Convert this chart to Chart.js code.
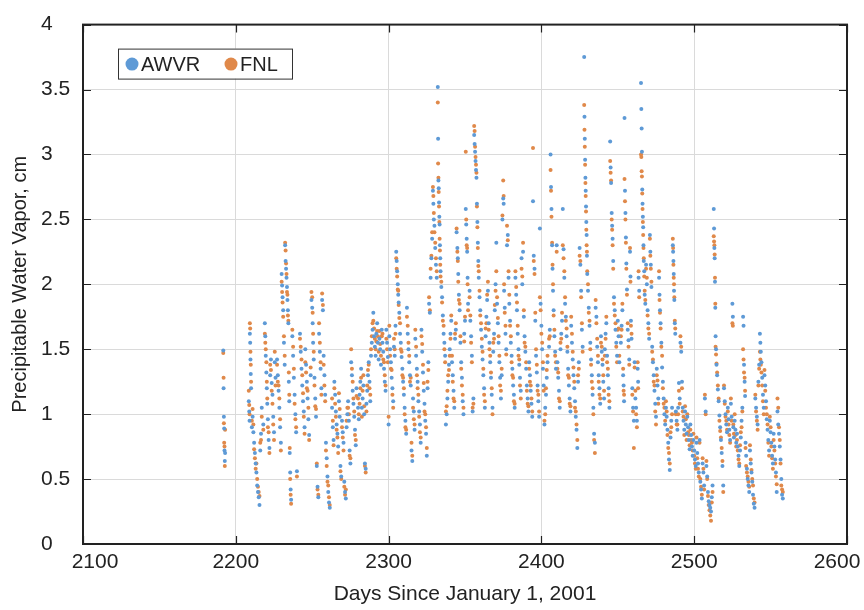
<!DOCTYPE html>
<html lang="en">
<head>
<meta charset="UTF-8">
<title>Precipitable water vapor, AWVR vs FNL</title>
<style>
    body { margin: 0; background: #fff; }
    #wrap { width: 864px; height: 610px; }
</style>
<script src="https://cdn.jsdelivr.net/npm/chart.js"></script>
</head>
<body>
<div id="wrap"><canvas id="pwvChart" width="864" height="610"></canvas></div>
<script>
// sample times, days since 2001-01-01
const day = [
    2191.8, 2192.0, 2192.2, 2192.4, 2192.6, 2192.8, 2193.0,
    2208.5, 2208.8, 2209.0, 2209.2, 2209.4, 2209.6, 2209.8, 2210.0, 2210.5, 2211.0,
    2211.5, 2212.0, 2212.5, 2213.0, 2213.5, 2214.0, 2214.5, 2215.0, 2215.5, 2216.0,
    2216.5, 2217.0, 2218.0, 2219.0, 2219.3, 2219.6, 2220.0, 2220.3, 2220.6, 2221.0,
    2221.5, 2222.0, 2222.5, 2223.0, 2223.5, 2224.0, 2224.5, 2225.0, 2225.5, 2226.0,
    2227, 2227.5, 2228, 2228.5, 2229, 2229.5, 2230, 2230.3, 2230.6, 2231,
    2231.5, 2232, 2232.3, 2232.6, 2232.9, 2233.2, 2233.5, 2233.8, 2234.1, 2234.4,
    2234.7, 2235, 2235.3, 2235.6, 2235.9, 2236.2, 2237, 2237.5, 2238, 2238.5,
    2239, 2239.5, 2240,
    2242, 2242.5, 2243, 2243.5, 2244, 2244.5, 2245, 2245.5, 2246, 2246.5,
    2247, 2247.5, 2248, 2249, 2249.5, 2250, 2250.3, 2250.6, 2251, 2251.5,
    2252, 2252.5, 2253, 2253.5, 2254, 2254.5, 2255, 2255.5, 2256, 2256.5,
    2257, 2257.5, 2258, 2258.5, 2259, 2259.5, 2260, 2260.5, 2261, 2261.5,
    2263, 2263.5, 2264, 2264.5, 2265, 2265.5, 2266, 2266.5, 2267, 2267.5,
    2268, 2268.5, 2269, 2269.5, 2270, 2270.5, 2271, 2271.5, 2272, 2272.5,
    2273, 2273.5, 2274, 2274.5, 2275, 2275.5, 2276, 2276.5, 2277, 2277.5,
    2278, 2278.5, 2279, 2280, 2280.5, 2281, 2281.5, 2282, 2282.5, 2283,
    2283.5, 2284, 2284.5, 2285, 2285.5, 2286, 2286.5, 2287, 2287.5, 2288,
    2288.5, 2289, 2289.5, 2290, 2290.5, 2291, 2291.5, 2292, 2292.5, 2293,
    2293.5, 2294, 2294.5, 2295, 2295.5, 2296, 2296.5, 2297, 2297.5, 2298,
    2298.5, 2299, 2299.5, 2300, 2300.5, 2301, 2301.5,
    2302, 2302.5, 2303, 2303.5, 2304, 2304.5, 2305, 2305.3, 2305.6, 2306,
    2306.3, 2306.6, 2307, 2307.5, 2308, 2308.5, 2309, 2309.5, 2310, 2310.5,
    2311, 2311.5, 2312, 2312.5, 2313, 2313.5, 2314, 2314.5, 2315, 2315.5,
    2316, 2316.5, 2317, 2317.5, 2318, 2318.5, 2319, 2319.5, 2320, 2320.5,
    2321, 2321.5, 2322, 2322.5, 2323, 2323.5, 2324, 2324.5, 2325, 2325.5,
    2326, 2326.5, 2327, 2327.5, 2328, 2328.5, 2329, 2329.3, 2329.6, 2330,
    2330.5, 2331, 2331.5,
    2332.2, 2332.4, 2332.6, 2332.8, 2333.0, 2333.2, 2333.4, 2333.6, 2333.8, 2334.0,
    2334.5, 2335, 2335.5, 2336, 2336.5, 2337, 2337.5, 2338, 2338.5, 2339,
    2339.5, 2340, 2340.5, 2341, 2341.5, 2342, 2342.5, 2343, 2343.5, 2344,
    2344.5, 2345, 2345.3, 2345.6, 2346, 2346.5, 2347, 2347.5, 2348, 2348.5,
    2349, 2349.5, 2350, 2350.5, 2350.8, 2351.1, 2351.4, 2351.7, 2352,
    2353, 2353.5, 2354, 2354.5, 2355, 2355.5, 2356, 2356.3, 2356.6, 2356.9,
    2357.2, 2357.5, 2357.8, 2358.1, 2358.4, 2358.7, 2359, 2359.5, 2360, 2360.5,
    2361, 2361.5, 2362, 2362.5, 2363, 2363.5, 2364, 2364.5, 2365, 2365.5,
    2366, 2366.5, 2367, 2367.5, 2368, 2368.5, 2369, 2369.5, 2370, 2370.5,
    2371, 2371.5, 2372, 2372.5, 2373, 2373.5, 2374, 2374.5, 2375, 2375.3,
    2375.6, 2376, 2376.5, 2377, 2377.5, 2378, 2378.5, 2379, 2379.5, 2380,
    2380.5, 2381, 2381.5, 2382, 2382.5, 2383, 2383.5, 2384, 2384.5, 2385,
    2385.5, 2386, 2386.5, 2387, 2387.5, 2388, 2388.5, 2389, 2389.5, 2390,
    2390.5, 2391, 2391.5, 2392, 2392.5, 2393, 2393.5, 2394, 2394.5, 2395,
    2395.5, 2396, 2396.5, 2397, 2397.5, 2398, 2398.5, 2399, 2399.5, 2400,
    2400.5, 2401, 2401.5, 2402, 2402.5, 2403, 2403.5, 2404,
    2405, 2405.5, 2406, 2406.3, 2406.6, 2407, 2407.3, 2407.6, 2408, 2408.5,
    2409, 2409.5, 2410, 2410.5, 2411, 2411.5, 2412, 2412.5, 2413, 2413.5,
    2414, 2414.5, 2415, 2415.5, 2416, 2416.5, 2417, 2417.5, 2418, 2418.5,
    2419, 2419.5, 2420, 2420.5, 2421, 2421.5, 2422, 2422.5, 2423, 2423.5,
    2424, 2424.5, 2425, 2425.5, 2426, 2426.5, 2427,
    2428, 2428.2, 2428.4, 2428.6, 2428.8, 2429, 2429.2, 2429.4, 2429.6, 2429.8,
    2430, 2430.5, 2431, 2431.5, 2432, 2432.5, 2433, 2433.5, 2434, 2434.5,
    2435, 2435.5, 2436, 2436.5, 2437, 2437.5, 2438, 2438.5, 2439, 2439.5,
    2440, 2440.5, 2441, 2441.5, 2442, 2442.5, 2443, 2443.5, 2444, 2444.5,
    2445, 2445.3, 2445.6, 2446, 2446.3, 2446.6, 2447, 2447.5, 2448, 2448.5,
    2449, 2449.5, 2450, 2450.5, 2451,
    2452, 2452.5, 2453, 2453.5, 2453.8, 2454.1, 2454.4, 2454.7, 2455, 2455.3,
    2455.6, 2456, 2456.5, 2457, 2457.5, 2458, 2458.3, 2458.6, 2459, 2459.5,
    2460, 2460.5, 2461, 2461.5, 2462, 2462.5, 2463, 2463.3, 2463.6, 2464,
    2465.2, 2465.4, 2465.6, 2465.8, 2466, 2466.2, 2466.4, 2466.6, 2466.8, 2467,
    2467.3, 2467.6, 2468, 2468.5, 2469, 2469.5, 2470, 2470.5, 2471, 2471.3,
    2471.6, 2472, 2472.5, 2473, 2473.5, 2474, 2474.5, 2475,
    2475.5, 2476, 2476.5, 2477, 2477.3, 2477.6, 2478, 2478.5, 2479, 2479.5,
    2480, 2480.5, 2481, 2481.5, 2482, 2482.5, 2483, 2483.5, 2484, 2484.5,
    2485, 2485.5, 2486, 2486.2, 2486.4, 2486.6, 2486.8, 2487, 2487.3, 2487.6,
    2488, 2488.5, 2489, 2489.5, 2490, 2490.5, 2491, 2491.5, 2492, 2492.5,
    2493, 2493.5, 2494, 2494.5, 2495, 2495.5, 2496, 2496.5, 2497, 2497.5,
    2498, 2498.5, 2499, 2499.5, 2500, 2500.5, 2501, 2501.5, 2502,
    2502.5, 2503, 2503.5, 2504, 2504.5, 2505, 2505.5, 2506, 2506.5, 2507,
    2507.5, 2508, 2508.5, 2509, 2509.5, 2510, 2510.5, 2511, 2511.5, 2512,
    2512.8, 2513, 2513.2, 2513.4, 2513.6, 2513.8, 2514, 2514.3, 2514.6, 2515,
    2515.5, 2516, 2516.5, 2517, 2517.5, 2518, 2518.5, 2519, 2519.5, 2520,
    2520.5, 2521, 2521.5, 2522, 2522.5, 2523, 2523.5, 2524, 2524.5, 2525,
    2525.3, 2525.6, 2526, 2526.5, 2527, 2527.5, 2528, 2528.5, 2529, 2529.5,
    2530, 2530.5, 2531, 2531.5, 2532, 2532.3, 2532.6, 2533, 2533.3, 2533.6,
    2534,
    2534.5, 2535, 2535.5, 2536, 2536.5, 2537, 2537.5, 2538, 2538.5, 2539,
    2539.5, 2540, 2540.5, 2541, 2541.5, 2542, 2542.5, 2543, 2543.3, 2543.6,
    2544, 2544.5, 2545, 2545.5, 2546, 2546.5, 2547, 2547.5, 2548, 2548.5,
    2549, 2549.5, 2550, 2550.5, 2551, 2551.5, 2552, 2552.5, 2553, 2553.5,
    2554, 2554.5, 2555, 2555.5, 2556, 2556.5, 2557, 2557.5, 2558
];

// AWVR precipitable water vapor, cm
const awvr = [
    1.49, 1.20, 0.98, 0.89, 0.72, 0.64, 0.70,
    1.10, 1.02, 0.95, 1.62, 1.55, 1.42, 1.31, 1.20, 0.90, 0.98,
    0.86, 0.78, 0.70, 0.62, 0.55, 0.45, 0.40, 0.36, 0.30, 0.72,
    0.85, 1.05, 0.92, 1.70, 1.60, 1.45, 1.32, 1.20, 1.08, 0.96,
    0.80, 0.74, 1.30, 1.42, 1.24, 1.15, 0.98, 0.86, 1.40, 1.28,
    1.42, 1.30, 1.18, 1.05, 0.90, 0.78, 2.08, 1.99, 1.90, 1.80,
    1.55, 1.38, 2.30, 2.18, 2.12, 2.05, 1.98, 1.88, 1.80, 1.70,
    1.25, 1.10, 0.70, 0.55, 0.42, 0.34, 1.60, 1.45, 1.28, 1.15,
    1.00, 0.86, 0.56,
    1.62, 1.48, 1.35, 1.22, 1.10, 1.02, 0.90, 1.50, 1.38, 1.25,
    1.12, 0.96, 0.84, 1.30, 1.88, 1.82, 1.70, 1.55, 1.42, 1.28,
    1.12, 0.98, 0.60, 0.44, 0.36, 1.62, 1.48, 1.35, 1.20, 1.88,
    1.80, 1.45, 1.30, 1.15, 0.78, 0.66, 0.52, 0.40, 0.32, 0.28,
    1.05, 0.90, 0.80, 1.25, 1.15, 1.02, 0.92, 0.85, 0.75, 1.10,
    0.98, 0.60, 0.52, 0.95, 0.86, 0.78, 0.48, 0.40, 0.35, 0.90,
    1.00, 1.10, 0.95, 0.72, 0.62, 1.40, 1.30, 1.18, 1.08, 0.98,
    0.88, 0.76, 1.20, 1.05, 0.96, 1.15, 1.25, 1.35, 1.05, 1.12,
    1.22, 1.00, 0.62, 0.58, 1.08, 1.18, 1.30, 1.40, 1.25, 1.10,
    1.45, 1.55, 1.65, 1.78, 1.60, 1.52, 1.45, 1.62, 1.70, 1.55,
    1.42, 1.58, 1.50, 1.38, 1.65, 1.55, 1.48, 1.35, 1.25, 1.18,
    1.65, 1.55, 1.44, 0.92, 1.60, 1.50, 1.40,
    1.28, 1.20, 1.10, 1.52, 1.45, 1.68, 2.25, 2.18, 2.10, 2.00,
    1.92, 1.86, 1.78, 1.62, 1.55, 1.44, 1.35, 1.25, 1.15, 1.05,
    0.95, 0.85, 1.82, 1.62, 1.50, 1.40, 1.30, 1.22, 0.72, 0.64,
    1.12, 1.02, 0.88, 1.58, 1.45, 1.35, 1.25, 1.10, 1.02, 0.92,
    0.78, 1.65, 1.48, 1.32, 1.18, 1.08, 0.95, 0.85, 0.68, 1.20,
    1.40, 1.85, 1.78, 2.05, 2.20, 2.35, 2.72, 2.62, 2.50, 2.45,
    2.28, 2.15, 2.05,
    3.52, 3.12, 2.80, 2.74, 2.63, 2.52, 2.46, 2.30, 2.20, 2.10,
    1.98, 1.90, 1.76, 1.62, 1.55, 1.45, 0.92, 1.00, 1.12, 1.25,
    1.38, 1.50, 1.62, 1.72, 1.40, 1.30, 1.18, 1.05, 1.58, 1.65,
    2.40, 2.28, 2.20, 2.08, 1.92, 1.80, 1.55, 1.40, 1.28, 1.10,
    1.00, 1.62, 1.72, 2.58, 2.46, 2.35, 2.25, 2.05, 1.85,
    1.95, 1.72, 1.60, 1.45, 1.02, 1.12, 3.15, 3.08, 3.02, 2.95,
    2.88, 2.82, 2.62, 2.48, 2.32, 2.18, 2.05, 1.90, 1.80, 1.65,
    1.52, 1.42, 1.30, 1.20, 1.05, 1.60, 1.75, 1.88, 1.95, 1.70,
    1.55, 1.40, 1.28, 1.15, 1.05, 1.48, 1.62, 1.80, 2.00, 2.32,
    1.85, 1.70, 1.55, 1.40, 1.28, 1.12, 1.30, 2.50, 2.66, 2.62,
    1.95, 1.82, 1.62, 1.50, 2.30, 2.38, 2.05, 1.85, 1.72, 1.55,
    1.45, 1.35, 1.22, 1.15, 1.05, 2.05, 1.92, 1.80, 1.62, 1.50,
    1.38, 1.28, 1.18, 2.20, 2.00, 2.25, 1.75, 1.60, 1.48, 1.35,
    1.22, 1.12, 1.02, 1.40, 1.30, 1.18, 1.08, 0.98, 2.64, 2.22,
    2.12, 1.72, 1.45, 1.32, 1.22, 1.10, 0.98, 2.43, 1.85, 1.68,
    1.50, 1.35, 1.22, 0.92, 1.05, 1.15, 1.28, 1.40,
    1.52, 1.65, 3.00, 2.75, 2.58, 2.30, 2.12, 1.95, 1.80, 1.60,
    1.48, 1.35, 2.30, 1.40, 1.28, 1.18, 1.05, 1.50, 1.62, 1.72,
    2.58, 2.27, 2.05, 1.85, 1.75, 1.60, 1.48, 1.35, 1.22, 1.12,
    1.02, 1.68, 1.55, 1.42, 1.30, 1.20, 1.10, 0.98, 0.88, 0.74,
    1.25, 1.40, 2.28, 2.15, 1.95, 1.65, 1.52,
    3.75, 3.29, 3.12, 2.96, 2.82, 2.72, 2.60, 2.48, 2.38, 2.22,
    2.08, 1.95, 1.82, 1.68, 1.55, 1.42, 1.30, 1.15, 1.05, 0.85,
    0.78, 1.82, 1.75, 1.52, 1.40, 1.30, 1.20, 1.08, 1.60, 1.48,
    1.38, 1.25, 1.12, 1.50, 1.62, 1.70, 1.45, 1.30, 1.20, 1.05,
    3.10, 2.90, 2.78, 2.55, 2.45, 2.35, 2.18, 1.90, 1.80, 1.65,
    1.55, 1.45, 1.72, 1.60, 1.40,
    1.55, 1.68, 1.80, 1.30, 1.22, 1.10, 3.28, 2.72, 2.55, 2.36,
    2.16, 1.96, 1.65, 1.57, 1.42, 2.25, 2.06, 1.72, 1.58, 1.20,
    1.05, 0.95, 1.40, 1.12, 1.05, 0.95, 1.35, 1.25, 2.05, 1.95,
    3.55, 3.35, 3.20, 3.02, 2.73, 2.62, 2.52, 2.44, 2.30, 2.18,
    2.10, 1.92, 1.85, 2.15, 2.00, 1.80, 1.70, 1.58, 2.38, 2.25,
    2.15, 1.98, 1.52, 1.40, 1.30, 1.18, 1.08, 0.98,
    1.35, 1.22, 1.12, 2.05, 1.92, 1.80, 1.70, 1.55, 1.36, 1.25,
    1.12, 1.00, 0.92, 1.05, 0.98, 0.88, 0.78, 0.65, 0.57, 0.82,
    0.95, 1.05, 2.30, 2.25, 2.18, 2.08, 1.95, 1.88, 1.70, 1.62,
    1.02, 0.95, 0.88, 1.05, 1.24, 1.12, 1.55, 1.48, 1.25, 1.05,
    0.95, 0.88, 1.02, 0.92, 0.85, 0.98, 0.90, 0.80, 0.73, 0.92,
    0.84, 0.75, 0.68, 0.80, 0.72, 0.65, 0.60, 0.78, 0.70,
    0.62, 0.55, 0.80, 0.48, 0.42, 0.35, 0.62, 0.55, 0.45, 1.12,
    1.02, 0.60, 0.52, 0.40, 0.33, 0.30, 0.28, 0.25, 0.36, 0.45,
    2.58, 2.43, 2.28, 2.20, 2.02, 1.82, 1.60, 1.50, 1.38, 1.30,
    1.19, 1.10, 0.99, 0.90, 0.80, 0.70, 0.60, 0.45, 1.20, 1.10,
    1.00, 0.92, 0.86, 1.05, 0.96, 0.88, 0.80, 1.08, 0.98, 1.85,
    1.75, 0.90, 0.82, 0.95, 0.88, 0.78, 0.85, 0.75, 0.68, 0.60,
    0.72, 0.82, 0.95, 1.05, 1.75, 1.68, 1.38, 1.25, 1.14, 0.78,
    0.68,
    0.58, 0.50, 0.45, 0.40, 0.72, 0.62, 0.55, 0.48, 0.38, 0.31,
    0.28, 1.12, 1.05, 0.98, 0.92, 1.25, 1.38, 1.62, 1.55, 1.48,
    1.40, 1.28, 1.15, 1.05, 1.30, 1.22, 1.10, 0.96, 0.88, 0.80,
    0.72, 0.95, 0.86, 0.78, 0.68, 0.62, 0.85, 0.75, 0.65, 0.55,
    0.40, 1.02, 0.92, 0.85, 0.75, 0.65, 0.50, 0.38, 0.35
];

// FNL precipitable water vapor, cm
const fnl = [
    1.47, 1.28, 0.93, 0.78, 0.75, 0.60, 0.88,
    1.18, 1.07, 1.00, 1.70, 1.66, 1.48, 1.38, 1.25, 0.95, 1.04,
    0.92, 0.73, 0.66, 0.58, 0.62, 0.50, 0.44, 0.40, 0.37, 0.78,
    0.80, 0.98, 0.88, 1.62, 1.55, 1.50, 1.40, 1.25, 1.12, 0.90,
    0.86, 0.70, 1.38, 1.34, 1.18, 1.08, 0.92, 0.80, 1.48, 1.22,
    1.38, 1.25, 1.22, 1.12, 0.96, 0.72, 2.02, 1.94, 1.86, 1.75,
    1.60, 1.45, 2.32, 2.26, 2.16, 2.08, 1.94, 1.92, 1.76, 1.72,
    1.32, 1.15, 0.74, 0.50, 0.38, 0.31, 1.65, 1.52, 1.35, 1.08,
    0.96, 0.90, 0.52,
    1.58, 1.52, 1.42, 1.30, 1.16, 0.98, 0.85, 1.40, 1.32, 1.20,
    1.18, 1.05, 0.80, 1.36, 1.94, 1.90, 1.78, 1.62, 1.48, 1.22,
    1.06, 1.04, 0.62, 0.42, 0.38, 1.70, 1.55, 1.40, 1.15, 1.93,
    1.84, 1.38, 1.22, 1.10, 0.72, 0.60, 0.48, 0.45, 0.36, 0.30,
    1.12, 0.95, 0.76, 1.20, 1.08, 0.98, 0.88, 0.82, 0.70, 1.16,
    1.04, 0.56, 0.50, 0.90, 0.82, 0.72, 0.44, 0.38, 0.42, 0.95,
    1.05, 1.05, 1.00, 0.68, 0.66, 1.50, 1.35, 1.25, 1.12, 1.02,
    0.84, 0.80, 1.14, 1.12, 1.00, 1.08, 1.20, 1.28, 0.98, 1.18,
    1.30, 1.06, 0.60, 0.55, 1.02, 1.22, 1.34, 1.38, 1.20, 1.15,
    1.50, 1.60, 1.70, 1.72, 1.66, 1.58, 1.50, 1.56, 1.64, 1.60,
    1.48, 1.64, 1.54, 1.45, 1.60, 1.62, 1.42, 1.40, 1.30, 1.22,
    1.58, 1.50, 1.40, 0.98, 1.68, 1.45, 1.35,
    1.34, 1.15, 1.05, 1.58, 1.50, 1.62, 2.20, 2.12, 2.06, 1.96,
    1.95, 1.84, 1.74, 1.70, 1.50, 1.48, 1.30, 1.28, 1.20, 1.00,
    0.90, 0.88, 1.75, 1.68, 1.55, 1.45, 1.25, 1.28, 0.78, 0.68,
    1.05, 0.96, 0.92, 1.65, 1.52, 1.30, 1.20, 1.15, 0.98, 0.86,
    0.82, 1.60, 1.54, 1.38, 1.24, 1.02, 1.00, 0.90, 0.74, 1.25,
    1.34, 1.90, 1.80, 2.12, 2.22, 2.40, 2.75, 2.68, 2.55, 2.40,
    2.32, 2.20, 2.10,
    3.40, 2.93, 2.82, 2.71, 2.60, 2.48, 2.35, 2.26, 2.15, 2.06,
    2.02, 1.86, 1.72, 1.68, 1.50, 1.40, 1.02, 1.06, 1.18, 1.30,
    1.34, 1.45, 1.58, 1.76, 1.45, 1.25, 1.12, 1.10, 1.62, 1.70,
    2.43, 2.25, 2.18, 2.02, 1.88, 1.85, 1.60, 1.35, 1.22, 1.15,
    1.05, 1.56, 1.75, 3.02, 2.50, 2.30, 2.28, 2.00, 1.80,
    1.90, 1.76, 1.55, 1.40, 1.05, 1.08, 3.22, 3.18, 3.06, 2.98,
    2.92, 2.86, 2.60, 2.44, 2.28, 2.14, 2.10, 1.95, 1.76, 1.70,
    1.58, 1.48, 1.35, 1.15, 1.10, 1.66, 1.70, 1.92, 2.02, 1.65,
    1.50, 1.45, 1.32, 1.20, 1.00, 1.55, 1.58, 1.84, 1.95, 2.10,
    1.90, 1.74, 1.60, 1.45, 1.22, 1.18, 1.35, 2.53, 2.80, 2.68,
    2.00, 1.78, 1.68, 1.46, 2.45, 2.34, 2.10, 1.92, 1.68, 1.60,
    1.40, 1.30, 1.28, 1.10, 1.08, 2.10, 1.98, 1.86, 1.68, 1.45,
    1.42, 1.22, 1.12, 2.12, 2.06, 2.32, 1.80, 1.55, 1.52, 1.40,
    1.18, 1.08, 1.06, 1.35, 1.25, 1.22, 1.12, 1.02, 3.05, 2.18,
    2.08, 1.78, 1.50, 1.38, 1.18, 1.15, 1.02, 1.90, 1.80, 1.62,
    1.55, 1.40, 1.18, 0.95, 1.00, 1.20, 1.34, 1.45,
    1.58, 1.60, 2.88, 2.72, 2.52, 2.32, 2.15, 2.00, 1.76, 1.65,
    1.45, 1.40, 2.25, 1.35, 1.32, 1.12, 1.10, 1.55, 1.58, 1.78,
    2.30, 2.20, 2.10, 1.90, 1.72, 1.66, 1.52, 1.30, 1.28, 1.08,
    1.06, 1.75, 1.62, 1.48, 1.36, 1.25, 1.05, 1.02, 0.92, 0.80,
    1.30, 1.35, 2.22, 2.18, 1.90, 1.70, 1.48,
    3.38, 3.19, 3.06, 2.92, 2.78, 2.68, 2.56, 2.42, 2.30, 2.25,
    2.10, 2.00, 1.78, 1.72, 1.50, 1.38, 1.25, 1.20, 1.00, 0.80,
    0.70, 1.88, 1.70, 1.58, 1.45, 1.25, 1.15, 1.12, 1.55, 1.52,
    1.42, 1.30, 1.18, 1.45, 1.58, 1.75, 1.40, 1.35, 1.15, 1.10,
    2.95, 2.86, 2.80, 2.50, 2.42, 2.30, 2.12, 1.85, 1.76, 1.70,
    1.52, 1.40, 1.65, 1.66, 1.45,
    1.60, 1.65, 1.85, 1.35, 1.18, 1.15, 2.81, 2.64, 2.50, 2.32,
    2.12, 1.92, 1.70, 1.52, 1.38, 2.28, 2.02, 1.68, 1.62, 1.15,
    1.02, 0.74, 1.36, 1.18, 1.00, 0.90, 1.40, 1.20, 2.10, 1.90,
    3.00, 2.98, 2.87, 2.83, 2.70, 2.58, 2.48, 2.38, 2.28, 2.20,
    2.06, 1.95, 1.88, 2.12, 2.05, 1.76, 1.66, 1.62, 2.35, 2.22,
    2.12, 2.02, 1.48, 1.42, 1.25, 1.22, 1.02, 0.92,
    1.30, 1.26, 1.08, 2.10, 1.88, 1.78, 1.66, 1.52, 1.45, 1.20,
    1.08, 1.05, 0.95, 1.10, 1.02, 0.84, 0.74, 0.70, 0.62, 0.86,
    0.90, 1.00, 2.35, 2.28, 2.15, 2.05, 2.00, 1.90, 1.72, 1.66,
    1.00, 0.92, 0.92, 1.00, 1.18, 1.08, 1.60, 1.52, 1.20, 1.02,
    0.98, 0.84, 1.06, 0.96, 0.80, 1.00, 0.86, 0.84, 0.76, 0.88,
    0.80, 0.78, 0.72, 0.85, 0.68, 0.62, 0.58, 0.82, 0.66,
    0.58, 0.52, 0.78, 0.50, 0.44, 0.38, 0.66, 0.58, 0.42, 1.15,
    1.00, 0.64, 0.50, 0.37, 0.30, 0.26, 0.22, 0.18, 0.32, 0.40,
    2.37, 2.33, 2.30, 2.23, 2.05, 1.85, 1.52, 1.46, 1.39, 1.32,
    1.22, 1.12, 0.95, 0.87, 0.82, 0.74, 0.64, 0.40, 1.22, 1.08,
    0.98, 0.95, 0.88, 1.02, 0.92, 0.84, 0.78, 1.12, 0.95, 1.70,
    1.68, 0.92, 0.85, 1.00, 0.84, 0.75, 0.80, 0.72, 0.65, 0.62,
    0.76, 0.86, 0.90, 1.02, 1.50, 1.42, 1.32, 1.28, 1.18, 0.74,
    0.60,
    0.55, 0.52, 0.48, 0.44, 0.76, 0.65, 0.57, 0.50, 0.45, 0.35,
    0.32, 1.15, 1.02, 0.95, 0.88, 1.22, 1.35, 1.48, 1.42, 1.38,
    1.32, 1.22, 1.10, 1.00, 1.34, 1.18, 1.05, 1.00, 0.92, 0.78,
    0.68, 0.98, 0.90, 0.75, 0.66, 0.58, 0.80, 0.72, 0.62, 0.52,
    0.46, 1.12, 1.05, 0.90, 0.80, 0.62, 0.45, 0.42, 0.40
];

const xTicks = [2100, 2200, 2300, 2400, 2500, 2600];
const yTicks = [0, 0.5, 1, 1.5, 2, 2.5, 3, 3.5, 4];

const blue = "#5e9ad6";
const orange = "#e0894a";
const family = "'Liberation Sans', Arial, sans-serif";
const ink = "#222222";
const tickFont = "21px " + family;

function series(values) {
    return day.map((d, i) => ({ x: d, y: values[i] }));
}

// the end labels of the day axis are pulled in so they stay inside the figure
const endLabelShift = { first: 12, last: -10 };

// axes box, inward tick marks, day labels and the boxed legend
const frame = {
    id: "frame",
    afterDraw(chart) {
        const ctx = chart.ctx;
        const a = chart.chartArea;
        const xs = chart.scales.x;
        const ys = chart.scales.y;
        const tick = 8;

        ctx.save();
        ctx.strokeStyle = ink;
        ctx.lineWidth = 1.2;
        ctx.beginPath();
        xTicks.forEach(v => {
            const px = Math.round(xs.getPixelForValue(v)) + 0.5;
            ctx.moveTo(px, a.bottom); ctx.lineTo(px, a.bottom - tick);
            ctx.moveTo(px, a.top); ctx.lineTo(px, a.top + tick);
        });
        yTicks.forEach(v => {
            const py = Math.round(ys.getPixelForValue(v)) + 0.5;
            ctx.moveTo(a.left, py); ctx.lineTo(a.left + tick, py);
            ctx.moveTo(a.right, py); ctx.lineTo(a.right - tick, py);
        });
        ctx.stroke();

        ctx.lineWidth = 2;
        ctx.strokeRect(a.left, a.top, a.right - a.left, a.bottom - a.top);

        // day tick labels
        ctx.fillStyle = ink;
        ctx.font = tickFont;
        ctx.textAlign = "center";
        ctx.textBaseline = "alphabetic";
        xTicks.forEach((v, i) => {
            let shift = 0;
            if (i === 0) shift = endLabelShift.first;
            if (i === xTicks.length - 1) shift = endLabelShift.last;
            ctx.fillText(String(v), xs.getPixelForValue(v) + shift, a.bottom + 24);
        });

        // legend
        const lx = a.left + 35, ly = a.top + 24, lw = 174, lh = 30;
        ctx.fillStyle = "#ffffff";
        ctx.fillRect(lx, ly, lw, lh);
        ctx.lineWidth = 1;
        ctx.strokeStyle = "#333333";
        ctx.strokeRect(lx + 0.5, ly + 0.5, lw, lh);

        const items = chart.data.datasets.map(ds => ({ label: ds.label, color: ds.backgroundColor }));
        const offsets = [14, 113];
        ctx.font = "20px " + family;
        ctx.textAlign = "left";
        ctx.textBaseline = "middle";
        items.forEach((it, i) => {
            const cx = lx + offsets[i];
            const cy = ly + lh / 2 + 0.5;
            ctx.fillStyle = it.color;
            ctx.beginPath();
            ctx.arc(cx, cy, 6.5, 0, Math.PI * 2);
            ctx.fill();
            ctx.fillStyle = ink;
            ctx.fillText(it.label, cx + 9, cy + 1);
        });
        ctx.restore();
    }
};

new Chart(document.getElementById("pwvChart"), {
    type: "scatter",
    data: {
        datasets: [
            {
                label: "AWVR",
                data: series(awvr),
                backgroundColor: blue,
                borderWidth: 0,
                pointRadius: 2
            },
            {
                label: "FNL",
                data: series(fnl),
                backgroundColor: orange,
                borderWidth: 0,
                pointRadius: 2
            }
        ]
    },
    options: {
        responsive: false,
        animation: false,
        layout: { autoPadding: false, padding: { top: 16, right: 17, left: 41, bottom: 0 } },
        plugins: {
            legend: { display: false },
            tooltip: { enabled: false }
        },
        scales: {
            x: {
                type: "linear",
                min: 2100,
                max: 2600,
                afterBuildTicks: s => { s.ticks = xTicks.map(v => ({ value: v })); },
                afterFit: s => { s.height = 66; },
                ticks: { display: false },
                grid: { color: "#dadada", lineWidth: 1, drawTicks: false },
                border: { display: false },
                title: {
                    display: true,
                    text: "Days Since January 1, 2001",
                    font: { size: 21, family: family },
                    color: ink,
                    padding: { top: 0, bottom: 3 }
                }
            },
            y: {
                type: "linear",
                min: 0,
                max: 4,
                afterBuildTicks: s => { s.ticks = yTicks.map(v => ({ value: v })); },
                afterFit: s => { s.width = 42; },
                ticks: {
                    callback: v => String(v),
                    font: { size: 21, family: family },
                    color: ink,
                    crossAlign: "far",
                    padding: 12
                },
                grid: { color: "#dadada", lineWidth: 1, drawTicks: false },
                border: { display: false },
                title: {
                    display: true,
                    text: "Precipitable Water Vapor, cm",
                    font: { size: 20, family: family },
                    color: ink,
                    padding: { top: -33, bottom: 0 }
                }
            }
        }
    },
    plugins: [frame]
});
</script>
</body>
</html>
